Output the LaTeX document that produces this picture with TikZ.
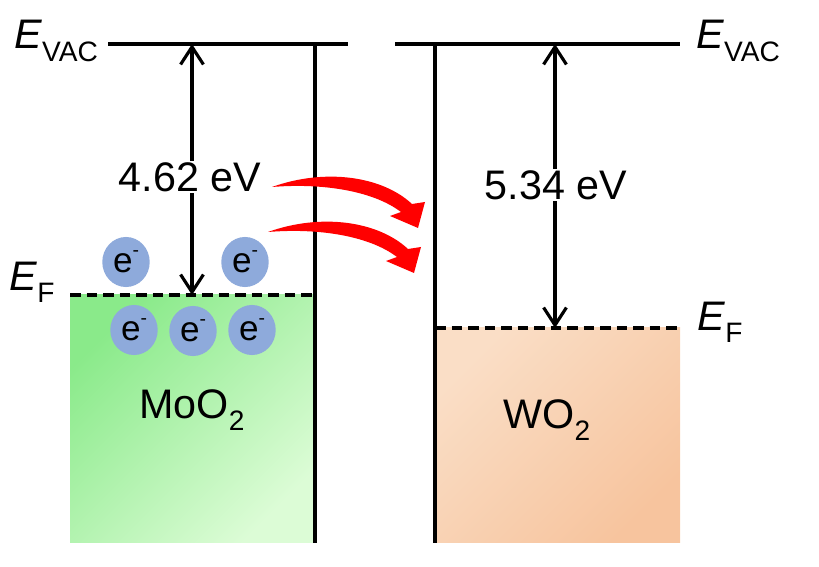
\documentclass[tikz,border=0pt]{standalone}
\usepackage{fontspec}
\setmainfont{Liberation Sans}
\usetikzlibrary{arrows.meta, shapes.geometric, positioning}
\definecolor{elec}{HTML}{8EAADB}
\definecolor{moTop}{RGB}{138,234,138}
\definecolor{moBot}{RGB}{220,252,214}
\definecolor{wTop}{RGB}{250,222,198}
\definecolor{wMid}{RGB}{247,200,164}
\definecolor{wBot}{RGB}{247,196,158}

\begin{document}
\begin{tikzpicture}[x=0.02cm, y=-0.02cm, font=\fontsize{23.5}{28}\selectfont,
    level/.style={line width=2pt},
    fermi/.style={line width=2.2pt, dash pattern=on 6pt off 3.4pt},
    gap/.style={{Straight Barb[length=10pt,width=13pt]}-{Straight Barb[length=10pt,width=13pt]}, line width=1.8pt},
    electron/.style={ellipse, fill=elec, minimum width=27pt, minimum height=28.5pt, inner sep=0pt, font=\fontsize{20}{22}\selectfont},
    lbl/.style={fill=white, inner sep=1pt}]
    \useasboundingbox (0,0) rectangle (819,567);
    % MoO2 side
    \shade[top color=moTop, bottom color=moBot, shading angle=45] (70,295) rectangle (315,543);
    \coordinate (vacL) at (192,44);
    \coordinate (efL) at (192,295);
    \draw[level] (108,44) -- (348,44);
    \draw[level] (315,44) -- (315,543);
    \draw[fermi] (70,295) -- (315,295);
    \draw[gap] (vacL) -- (efL);
    \node[lbl] (phiL) at (190,177) {4.62 eV};
    \node (evacL) at (56,41) {\textit{E}\raisebox{-0.3em}{\fontsize{16}{18}\selectfont VAC}};
    \node (efermiL) at (32,282) {\textit{E}\raisebox{-0.3em}{\fontsize{16}{18}\selectfont F}};
    \node (moo) at (192,410) {MoO\raisebox{-0.3em}{\fontsize{16}{18}\selectfont 2}};
    % electrons
    \node[electron] (e1) at (126,262) {e\raisebox{0.45em}{\fontsize{11}{12}\selectfont -}};
    \node[electron] (e2) at (245,262) {e\raisebox{0.45em}{\fontsize{11}{12}\selectfont -}};
    \node[electron] (e3) at (134,330) {e\raisebox{0.45em}{\fontsize{11}{12}\selectfont -}};
    \node[electron] (e4) at (193,331) {e\raisebox{0.45em}{\fontsize{11}{12}\selectfont -}};
    \node[electron] (e5) at (252,330) {e\raisebox{0.45em}{\fontsize{11}{12}\selectfont -}};
    % WO2 side
    \shade[top color=wTop, middle color=wMid, bottom color=wBot, shading angle=45] (435,328) rectangle (680,543);
    \coordinate (vacR) at (555,44);
    \coordinate (efR) at (555,328);
    \draw[level] (395,44) -- (680,44);
    \draw[level] (435,44) -- (435,543);
    \draw[fermi] (435,328) -- (680,328);
    \draw[gap] (vacR) -- (efR);
    \node[lbl] (phiR) at (556,185) {5.34 eV};
    \node (evacR) at (738,41) {\textit{E}\raisebox{-0.3em}{\fontsize{16}{18}\selectfont VAC}};
    \node (efermiR) at (720,322) {\textit{E}\raisebox{-0.3em}{\fontsize{16}{18}\selectfont F}};
    \node (wo) at (547,420) {WO\raisebox{-0.3em}{\fontsize{16}{18}\selectfont 2}};
    % transfer arrows
    \foreach \dx/\dy in {0/0, -4/45}
      \fill[red, shift={(\dx,\dy)}] (272,187) .. controls (325,168) and (382,176) .. (412,204)
        -- (425,202) -- (418,228) -- (390,216) -- (401,212)
        .. controls (372,190) and (320,183) .. cycle;
\end{tikzpicture}
\end{document}
